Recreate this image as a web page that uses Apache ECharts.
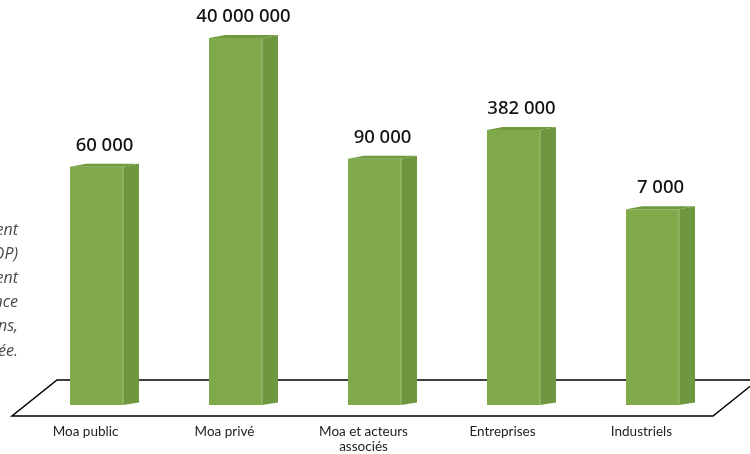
<!DOCTYPE html>
<html>
<head>
<meta charset="utf-8">
<script src="https://cdn.jsdelivr.net/npm/echarts@6/dist/echarts.min.js"></script>
<style>
html,body{margin:0;padding:0;background:#fff;}
#c{width:750px;height:454px;}
</style>
</head>
<body>
<div id="c"></div>
<script>
const categories = ['Moa public', 'Moa privé', 'Moa et acteurs\nassociés', 'Entreprises', 'Industriels'];
const values = [60000, 40000000, 90000, 382000, 7000];
const sideNote = [
  "Nombre d'acteurs concernés selon leur positionnement",
  "(maîtres d'ouvrage, maîtrise d'œuvre, MOP)",
  "dans la chaîne de construction du bâtiment",
  "et leur degré d'implication et d'influence",
  "dans le choix des produits et des solutions,",
  "une fois la construction réalisée."
];

const AXIS_MIN = 0.35;
const AXIS_MAX = 1e8;

function fmt(v){
  return String(v).replace(/\B(?=(\d{3})+(?!\d))/g, ' ');
}

const chart = echarts.init(document.getElementById('c'), null, {renderer:'canvas'});

const FRONT_W = 53, DX = 16, DY = -3;

const option = {
  animation: false,
  grid: {left: 27, right: 28, top: 20, bottom: 49},
  xAxis: {
    type: 'category',
    data: categories,
    axisLine: {show: false},
    axisTick: {show: false},
    axisLabel: {
      margin: 19,
      color: '#222',
      fontFamily: 'Lato',
      fontSize: 13.5,
      lineHeight: 15,
      padding: [0, 22, 0, 0]
    }
  },
  yAxis: {
    type: 'log',
    min: AXIS_MIN,
    max: AXIS_MAX,
    show: false,
    splitLine: {show: false}
  },
  graphic: [
    {
      type: 'polygon',
      z: 0,
      shape: {points: [[57,380],[758,380],[713,416],[12,416]]},
      style: {fill: 'none', stroke: '#000', lineWidth: 1.5}
    },
    ...sideNote.map((t, i) => ({
      type: 'text',
      z: 0,
      x: 18,
      y: 230 + i * 24.2,
      style: {
        text: t,
        align: 'right',
        verticalAlign: 'middle',
        fill: '#4a4a4a',
        font: 'italic 16px "Open Sans"'
      }
    }))
  ],
  series: [{
    type: 'custom',
    z: 10,
    data: values.map((v, i) => [i, v]),
    renderItem: function(params, api){
      const i = api.value(0), v = api.value(1);
      const top = api.coord([i, v]);
      const base = api.coord([i, AXIS_MIN]);
      const cx = top[0];
      const x0 = cx - FRONT_W / 2, x1 = cx + FRONT_W / 2;
      const ty = top[1], by = base[1];
      return {
        type: 'group',
        children: [
          {
            type: 'polygon',
            shape: {points: [[x1, ty], [x1 + DX, ty + DY], [x1 + DX, by + DY + 0.5], [x1, by]]},
            style: {fill: '#6e973f'}
          },
          {
            type: 'polygon',
            shape: {points: [[x0, ty], [x1, ty], [x1 + DX, ty + DY], [x0 + DX, ty + DY]]},
            style: {fill: '#6f9a40'}
          },
          {
            type: 'rect',
            shape: {x: x0, y: ty, width: FRONT_W, height: by - ty},
            style: {fill: '#7fa94b'}
          },
          {
            type: 'line',
            shape: {x1: x1, y1: ty, x2: x1, y2: by},
            style: {stroke: '#a3c47a', lineWidth: 1}
          },
          {
            type: 'text',
            x: cx + DX / 2,
            y: ty - 21,
            style: {
              text: fmt(v),
              align: 'center',
              verticalAlign: 'middle',
              fill: '#111',
              font: '500 18.5px "Noto Sans"'
            }
          }
        ]
      };
    }
  }]
};
chart.setOption(option);
</script>
</body>
</html>
